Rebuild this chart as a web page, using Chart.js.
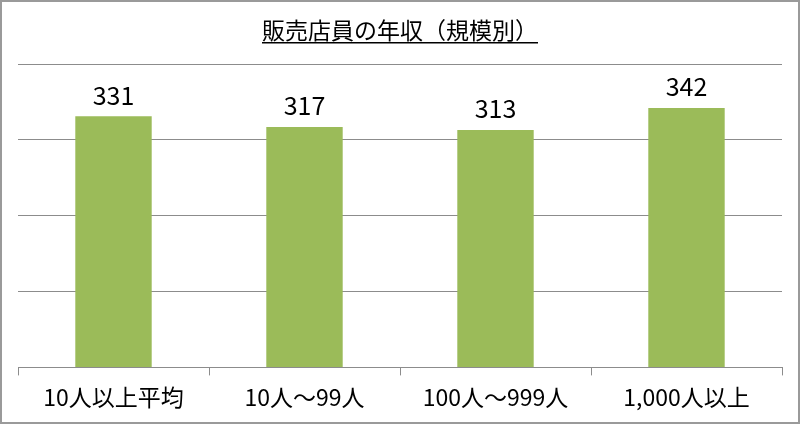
<!DOCTYPE html>
<html>
<head>
<meta charset="utf-8">
<script src="https://cdn.jsdelivr.net/npm/chart.js@4"></script>
<style>
    html, body { margin: 0; padding: 0; background: #fff; }
    #chart { display: block; }
</style>
</head>
<body>
<canvas id="chart" width="800" height="424"></canvas>
<script>
const categories = ["10人以上平均", "10人～99人", "100人～999人", "1,000人以上"];
const salaries = [331, 317, 313, 342];
const chartTitle = "販売店員の年収（規模別）";

const fontFamily = "'Noto Sans CJK JP', 'Noto Sans', sans-serif";
const gridColor = "#8c8c8c";

const frameAndTitle = {
    id: "frameAndTitle",
    afterDraw(chart) {
        const ctx = chart.ctx;
        ctx.save();
        ctx.strokeStyle = "#9a9a9a";
        ctx.lineWidth = 2;
        ctx.strokeRect(1, 1, chart.width - 2, chart.height - 2);

        ctx.font = "23px " + fontFamily;
        ctx.fillStyle = "#000";
        ctx.textAlign = "center";
        ctx.textBaseline = "alphabetic";
        const cx = chart.width / 2;
        ctx.fillText(chartTitle, cx, 39);
        const w = ctx.measureText(chartTitle).width;
        ctx.fillRect(cx - w / 2, 42, w, 1.5);
        ctx.restore();
    }
};

const barLabels = {
    id: "barLabels",
    afterDatasetsDraw(chart) {
        const ctx = chart.ctx;
        const meta = chart.getDatasetMeta(0);
        ctx.save();
        ctx.font = "25px " + fontFamily;
        ctx.fillStyle = "#000";
        ctx.textAlign = "center";
        ctx.textBaseline = "middle";
        meta.data.forEach((bar, i) => {
            ctx.fillText(String(salaries[i]), bar.x, bar.y - 21);
        });
        ctx.restore();
    }
};

new Chart(document.getElementById("chart"), {
    type: "bar",
    data: {
        labels: categories,
        datasets: [{
            data: salaries,
            backgroundColor: "#9bbb59",
            borderWidth: 0,
            categoryPercentage: 1,
            barPercentage: 0.4
        }]
    },
    options: {
        responsive: false,
        animation: false,
        layout: {
            padding: { left: 18, right: 18, top: 64, bottom: 5 }
        },
        plugins: {
            legend: { display: false },
            tooltip: { enabled: false }
        },
        scales: {
            y: {
                min: 0,
                max: 400,
                ticks: { display: false, stepSize: 100 },
                border: { display: false },
                grid: { color: gridColor, lineWidth: 1, drawTicks: false }
            },
            x: {
                offset: true,
                border: { display: true, color: gridColor, width: 1 },
                grid: {
                    offset: true,
                    drawOnChartArea: false,
                    color: gridColor,
                    tickLength: 8
                },
                ticks: {
                    color: "#000",
                    font: { family: fontFamily, size: 23 },
                    padding: 8,
                    maxRotation: 0
                }
            }
        }
    },
    plugins: [frameAndTitle, barLabels]
});
</script>
</body>
</html>
